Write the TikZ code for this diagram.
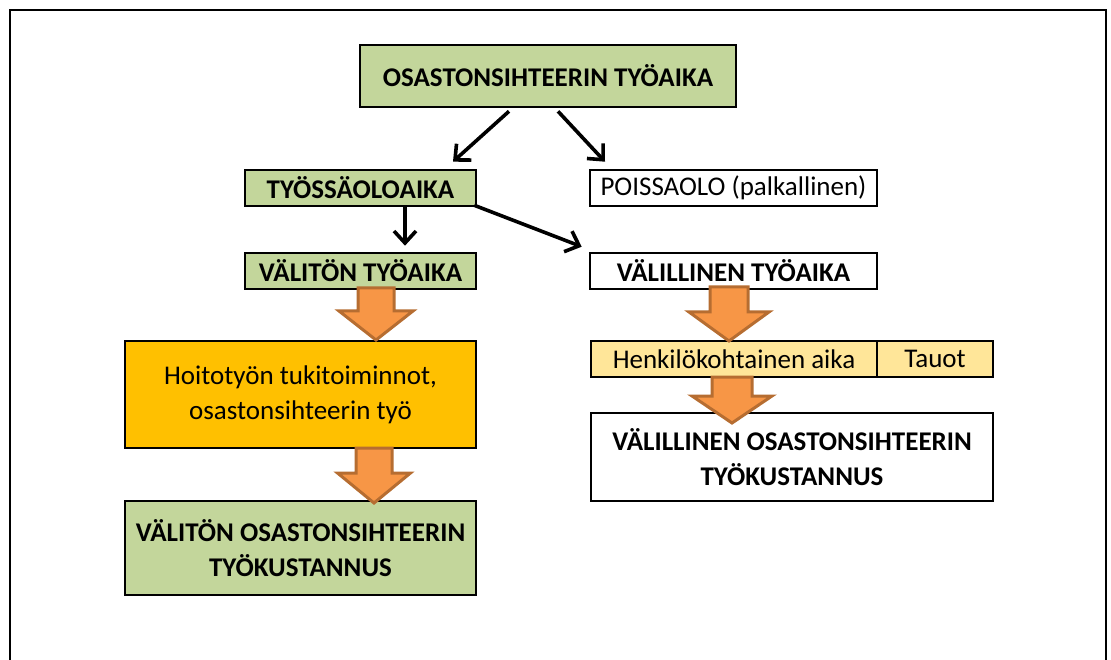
\documentclass[tikz,border=0pt]{standalone}
\usepackage{fontspec}
\setmainfont{Carlito}
\usetikzlibrary{arrows.meta}
\definecolor{boxgreen}{HTML}{C3D69B}
\definecolor{boxamber}{HTML}{FFC000}
\definecolor{boxcream}{HTML}{FFE699}
\definecolor{flowfill}{HTML}{F79646}
\definecolor{flowedge}{HTML}{B66D31}
\tikzset{
  box/.style={draw=black, line width=2.6pt, rectangle, inner sep=0pt, align=center,
    font=\fontsize{27}{35}\selectfont},
  boldbox/.style={box, font=\fontsize{27}{35}\selectfont\bfseries},
  conn/.style={draw=black, line width=3.6pt, -{Straight Barb[length=12pt,width=22pt]}},
  flow/.style={fill=flowfill, draw=flowedge, line width=3pt, line join=miter},
}
% downward block arrow: centre x, shaft top, head start, tip, shaft half width, head half width
\newcommand\downflow[6]{%
  \path[flow] (#1-#5,#2) -- (#1+#5,#2) -- (#1+#5,#3) -- (#1+#6,#3) -- (#1,#4)
    -- (#1-#6,#3) -- (#1-#5,#3) -- cycle;}
\begin{document}
\begin{tikzpicture}[x=1pt,y=-1pt]
  \useasboundingbox (0,0) rectangle (1111,660);
  % outer frame, open at the bottom
  \draw[line width=2.6pt] (10,660) -- (10,10) -- (1106,10) -- (1106,660);

  % boxes
  \node[boldbox, fill=boxgreen, minimum width=376pt, minimum height=62pt] (top) at (548,76) {OSASTONSIHTEERIN TYÖAIKA};
  \node[boldbox, fill=boxgreen, minimum width=231pt, minimum height=36pt] (tyo) at (360.5,188) {TYÖSSÄOLOAIKA};
  \node[box, fill=white, minimum width=287pt, minimum height=36pt] (poi) at (733.5,188) {POISSAOLO (palkallinen)};
  \node[boldbox, fill=boxgreen, minimum width=231pt, minimum height=36pt] (vt) at (360.5,271) {VÄLITÖN TYÖAIKA};
  \node[boldbox, fill=white, minimum width=287pt, minimum height=36pt] (vl) at (733.5,271) {VÄLILLINEN TYÖAIKA};
  \node[box, fill=boxamber, minimum width=351pt, minimum height=107pt] (hoi) at (300.5,394.5) {Hoitotyön tukitoiminnot,\\osastonsihteerin työ};
  \node[boldbox, fill=boxgreen, minimum width=351pt, minimum height=94pt] (vok) at (300.5,548) {VÄLITÖN OSASTONSIHTEERIN\\TYÖKUSTANNUS};
  \node[box, fill=boxcream, minimum width=286pt, minimum height=36pt] (hen) at (734,359) {Henkilökohtainen aika};
  \node[box, fill=boxcream, minimum width=116pt, minimum height=36pt] (tau) at (935,359) {Tauot};
  \node[boldbox, fill=white, minimum width=402pt, minimum height=88pt] (lok) at (792,457) {VÄLILLINEN OSASTONSIHTEERIN\\TYÖKUSTANNUS};

  % connectors
  \draw[conn] ([shift={(-39,3)}]top.south) -- ([shift={(92.5,-7)}]tyo.north);
  \draw[conn] ([shift={(10,3)}]top.south) -- ([shift={(-128.5,-7)}]poi.north);
  \draw[conn] ([shift={(44.5,0)}]tyo.south) -- ([shift={(44.5,-6)}]vt.north);
  \draw[conn] ([shift={(-3,-2)}]tyo.south east) -- ([shift={(-7,-5)}]vl.north west);

  % block arrows
  \downflow{376}{288}{311}{340}{18}{37}
  \downflow{374}{448}{473}{503}{18}{36.5}
  \downflow{729}{287}{312}{341}{19}{40}
  \downflow{732}{377}{396}{423}{20}{40}
\end{tikzpicture}
\end{document}
